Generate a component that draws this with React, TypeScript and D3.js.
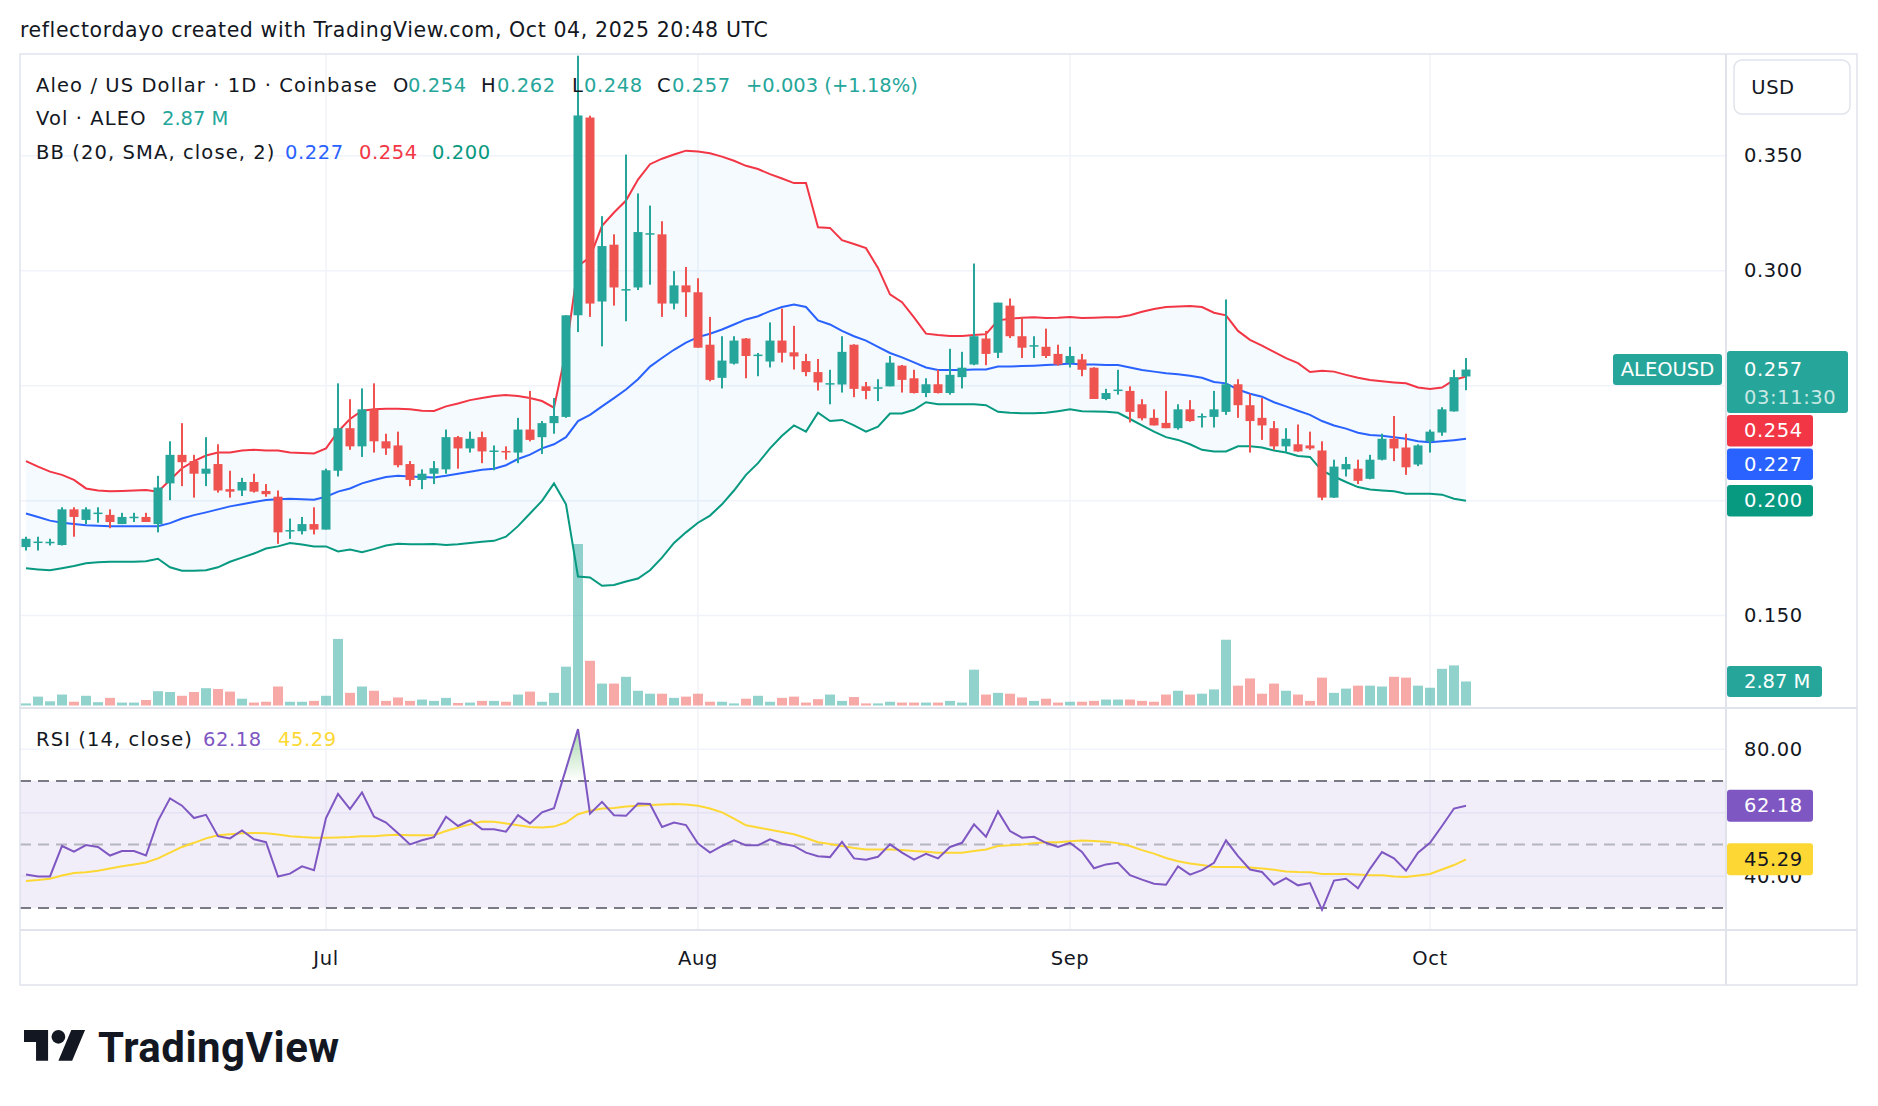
import React, { useEffect } from 'react';
import * as d3 from 'd3';

const opens = [0.1798,0.1819,0.1818,0.1807,0.1962,0.1916,0.1945,0.1938,0.1898,0.1928,
 0.1929,0.1898,0.2075,0.2199,0.2172,0.2117,0.2159,0.2050,0.2044,0.2081,
 0.2042,0.2017,0.1868,0.1867,0.1898,0.1874,0.2130,0.2315,0.2236,0.2397,
 0.2258,0.2240,0.2159,0.2090,0.2117,0.2136,0.2276,0.2227,0.2276,0.2216,
 0.2216,0.2209,0.2309,0.2276,0.2337,0.2364,0.2806,0.3666,0.2866,0.3113,
 0.2915,0.2927,0.3160,0.3158,0.2857,0.2936,0.2906,0.2678,0.2534,0.2596,
 0.2705,0.2632,0.2605,0.2696,0.2645,0.2607,0.2559,0.2508,0.2505,0.2678,
 0.2497,0.2490,0.2497,0.2587,0.2532,0.2468,0.2506,0.2468,0.2537,0.2592,
 0.2705,0.2643,0.2848,0.2715,0.2673,0.2669,0.2638,0.2598,0.2614,0.2578,
 0.2442,0.2480,0.2477,0.2419,0.2360,0.2338,0.2315,0.2397,0.2365,0.2364,
 0.2386,0.2506,0.2415,0.2360,0.2315,0.2236,0.2245,0.2240,0.2218,0.2013,
 0.2136,0.2139,0.2095,0.2178,0.2269,0.2231,0.2157,0.2258,0.2296,0.2388,
 0.2540];

const highs = [0.1843,0.1843,0.1834,0.1971,0.1971,0.1971,0.1971,0.1962,0.1947,0.1947,
 0.1947,0.2108,0.2258,0.2337,0.2199,0.2276,0.2245,0.2130,0.2099,0.2117,
 0.2072,0.2044,0.1922,0.1929,0.1971,0.2139,0.2510,0.2441,0.2488,0.2510,
 0.2291,0.2300,0.2172,0.2136,0.2172,0.2309,0.2281,0.2300,0.2300,0.2240,
 0.2236,0.2360,0.2477,0.2346,0.2446,0.2806,0.3935,0.3674,0.3237,0.3158,
 0.3505,0.3336,0.3283,0.3215,0.2998,0.3016,0.2967,0.2799,0.2715,0.2715,
 0.2707,0.2642,0.2775,0.2835,0.2760,0.2638,0.2616,0.2569,0.2715,0.2680,
 0.2516,0.2528,0.2629,0.2590,0.2569,0.2532,0.2569,0.2660,0.2647,0.3031,
 0.2738,0.2861,0.2879,0.2799,0.2715,0.2748,0.2678,0.2669,0.2638,0.2580,
 0.2486,0.2569,0.2497,0.2441,0.2397,0.2477,0.2419,0.2437,0.2379,0.2477,
 0.2875,0.2528,0.2464,0.2446,0.2346,0.2315,0.2331,0.2300,0.2258,0.2178,
 0.2190,0.2178,0.2199,0.2291,0.2368,0.2291,0.2245,0.2309,0.2406,0.2569,
 0.2620];

const lows = [0.1783,0.1783,0.1805,0.1805,0.1843,0.1898,0.1904,0.1880,0.1898,0.1907,
 0.1907,0.1862,0.2002,0.2063,0.2013,0.2063,0.2035,0.2013,0.2020,0.2035,
 0.2017,0.1812,0.1834,0.1853,0.1853,0.1874,0.2105,0.2221,0.2190,0.2209,
 0.2199,0.2145,0.2063,0.2050,0.2072,0.2117,0.2139,0.2209,0.2163,0.2132,
 0.2178,0.2163,0.2258,0.2203,0.2291,0.2360,0.2733,0.2799,0.2671,0.2848,
 0.2780,0.2916,0.2939,0.2799,0.2832,0.2799,0.2665,0.2519,0.2488,0.2592,
 0.2532,0.2541,0.2579,0.2601,0.2570,0.2541,0.2479,0.2419,0.2470,0.2450,
 0.2441,0.2433,0.2497,0.2470,0.2466,0.2450,0.2466,0.2461,0.2488,0.2589,
 0.2589,0.2620,0.2707,0.2620,0.2620,0.2620,0.2587,0.2579,0.2541,0.2442,
 0.2437,0.2461,0.2340,0.2349,0.2327,0.2315,0.2309,0.2343,0.2318,0.2318,
 0.2373,0.2360,0.2209,0.2264,0.2221,0.2209,0.2212,0.2221,0.2002,0.2012,
 0.2105,0.2072,0.2093,0.2175,0.2172,0.2112,0.2150,0.2209,0.2282,0.2387,
 0.2480];

const closes = [0.1834,0.1822,0.1821,0.1962,0.1929,0.1962,0.1948,0.1907,0.1929,0.1930,
 0.1907,0.2057,0.2199,0.2167,0.2117,0.2139,0.2044,0.2039,0.2081,0.2039,
 0.2028,0.1862,0.1872,0.1898,0.1874,0.2132,0.2315,0.2236,0.2397,0.2258,
 0.2227,0.2154,0.2090,0.2117,0.2141,0.2276,0.2227,0.2269,0.2214,0.2218,
 0.2212,0.2309,0.2264,0.2337,0.2368,0.2806,0.3675,0.2857,0.3107,0.2927,
 0.2920,0.3168,0.3163,0.2857,0.2936,0.2906,0.2665,0.2525,0.2609,0.2696,
 0.2629,0.2635,0.2696,0.2643,0.2627,0.2559,0.2514,0.2511,0.2647,0.2486,
 0.2477,0.2493,0.2600,0.2525,0.2468,0.2506,0.2468,0.2547,0.2578,0.2715,
 0.2638,0.2861,0.2715,0.2665,0.2676,0.2629,0.2592,0.2629,0.2569,0.2442,
 0.2468,0.2483,0.2386,0.2358,0.2327,0.2315,0.2397,0.2346,0.2368,0.2397,
 0.2506,0.2415,0.2346,0.2327,0.2236,0.2269,0.2214,0.2227,0.2013,0.2148,
 0.2159,0.2086,0.2178,0.2269,0.2227,0.2145,0.2240,0.2300,0.2397,0.2537,
 0.2570];

// volume in millions ALEO
const volumes = [0.25,1.06,0.50,1.31,0.45,1.16,0.40,0.91,0.35,0.35,
 0.66,1.71,1.61,1.16,1.61,2.07,1.97,1.66,0.81,0.35,
 0.45,2.27,0.45,0.45,0.55,1.16,7.96,1.51,2.27,1.76,
 0.55,0.96,0.55,0.71,0.55,0.91,0.30,0.35,0.55,0.55,
 0.45,1.31,1.66,0.45,1.51,4.64,19.30,5.34,2.62,2.62,
 3.43,1.76,1.41,1.41,0.91,1.06,1.41,0.45,0.45,0.25,
 0.81,1.16,0.45,0.91,1.06,0.35,0.76,1.31,0.55,1.01,
 0.25,0.25,0.45,0.35,0.35,0.35,0.35,0.55,0.35,4.28,
 1.31,1.51,1.41,0.96,0.55,0.81,0.35,0.45,0.45,0.55,
 0.71,0.71,0.71,0.55,0.45,1.31,1.76,1.31,1.41,1.92,
 7.86,2.37,3.23,1.41,2.62,1.76,1.31,0.55,3.33,1.51,
 2.02,2.37,2.37,2.27,3.43,3.33,2.37,2.12,4.38,4.79,
 2.87];

const bbUpper = [0.2172,0.2148,0.2126,0.2112,0.2090,0.2053,0.2044,0.2041,0.2042,0.2044,
 0.2046,0.2039,0.2090,0.2141,0.2172,0.2196,0.2209,0.2209,0.2218,0.2221,
 0.2218,0.2218,0.2209,0.2207,0.2205,0.2227,0.2300,0.2355,0.2391,0.2397,
 0.2400,0.2400,0.2397,0.2391,0.2390,0.2410,0.2422,0.2437,0.2446,0.2455,
 0.2459,0.2455,0.2446,0.2433,0.2404,0.2650,0.3021,0.3058,0.3195,0.3253,
 0.3305,0.3396,0.3463,0.3487,0.3505,0.3522,0.3518,0.3511,0.3496,0.3478,
 0.3456,0.3442,0.3420,0.3401,0.3381,0.3381,0.3189,0.3186,0.3133,0.3116,
 0.3098,0.3012,0.2897,0.2863,0.2797,0.2726,0.2720,0.2716,0.2716,0.2720,
 0.2724,0.2784,0.2791,0.2795,0.2797,0.2794,0.2795,0.2799,0.2794,0.2795,
 0.2797,0.2797,0.2806,0.2821,0.2833,0.2842,0.2844,0.2846,0.2842,0.2817,
 0.2806,0.2738,0.2699,0.2674,0.2647,0.2620,0.2598,0.2559,0.2565,0.2561,
 0.2547,0.2534,0.2525,0.2519,0.2514,0.2510,0.2492,0.2486,0.2492,0.2525,
 0.2540];

const bbBasis = [0.1944,0.1929,0.1913,0.1904,0.1898,0.1893,0.1891,0.1889,0.1889,0.1889,
 0.1889,0.1889,0.1902,0.1922,0.1937,0.1949,0.1962,0.1975,0.1984,0.1994,
 0.2003,0.2006,0.2008,0.2006,0.2004,0.2017,0.2039,0.2053,0.2075,0.2090,
 0.2103,0.2108,0.2105,0.2103,0.2101,0.2108,0.2117,0.2126,0.2134,0.2139,
 0.2154,0.2181,0.2200,0.2227,0.2245,0.2276,0.2346,0.2373,0.2410,0.2446,
 0.2483,0.2528,0.2583,0.2620,0.2656,0.2687,0.2711,0.2726,0.2744,0.2766,
 0.2788,0.2802,0.2824,0.2842,0.2853,0.2842,0.2784,0.2766,0.2738,0.2715,
 0.2696,0.2669,0.2642,0.2623,0.2601,0.2579,0.2568,0.2568,0.2568,0.2570,
 0.2570,0.2583,0.2583,0.2585,0.2587,0.2590,0.2592,0.2596,0.2592,0.2592,
 0.2590,0.2590,0.2579,0.2568,0.2561,0.2554,0.2550,0.2543,0.2534,0.2516,
 0.2510,0.2483,0.2465,0.2452,0.2428,0.2410,0.2391,0.2373,0.2346,0.2327,
 0.2313,0.2295,0.2285,0.2282,0.2276,0.2269,0.2258,0.2254,0.2258,0.2263,
 0.2269];

const bbLower = [0.1706,0.1701,0.1697,0.1706,0.1716,0.1728,0.1732,0.1734,0.1734,0.1734,
 0.1736,0.1747,0.1710,0.1695,0.1695,0.1697,0.1710,0.1734,0.1752,0.1770,
 0.1792,0.1801,0.1816,0.1809,0.1801,0.1801,0.1779,0.1787,0.1776,0.1789,
 0.1805,0.1812,0.1810,0.1810,0.1811,0.1807,0.1810,0.1816,0.1821,0.1825,
 0.1843,0.1889,0.1944,0.1999,0.2075,0.1984,0.1670,0.1666,0.1630,0.1633,
 0.1648,0.1661,0.1697,0.1752,0.1816,0.1862,0.1904,0.1935,0.1984,0.2044,
 0.2112,0.2163,0.2227,0.2282,0.2327,0.2300,0.2382,0.2346,0.2351,0.2327,
 0.2300,0.2322,0.2379,0.2379,0.2395,0.2428,0.2419,0.2419,0.2419,0.2419,
 0.2415,0.2386,0.2382,0.2380,0.2380,0.2382,0.2389,0.2397,0.2389,0.2388,
 0.2386,0.2382,0.2355,0.2327,0.2300,0.2276,0.2264,0.2245,0.2221,0.2214,
 0.2214,0.2236,0.2236,0.2231,0.2218,0.2209,0.2194,0.2190,0.2130,0.2105,
 0.2081,0.2059,0.2048,0.2044,0.2041,0.2030,0.2030,0.2030,0.2026,0.2008,
 0.1999];

const rsiValues = [40.5,39.9,39.9,49.5,47.7,49.8,49.2,46.5,47.9,47.9,
 46.5,57.4,64.5,62.2,58.3,59.3,52.6,51.9,54.4,51.6,
 50.7,39.9,40.8,43.1,41.9,58.3,65.9,61.1,66.4,58.7,
 56.9,53.5,50.0,51.3,52.3,58.7,55.8,57.6,54.8,54.8,
 54.0,59.2,56.6,60.1,61.4,73.8,86.3,59.7,63.4,59.2,
 59.0,62.9,62.7,55.5,56.9,56.1,50.3,47.4,49.5,51.3,
 49.7,49.7,51.6,50.2,49.5,47.4,46.3,46.0,50.8,45.6,
 45.2,46.1,50.0,47.4,45.2,47.0,45.6,49.2,50.5,56.3,
 52.4,60.4,54.2,52.1,52.4,50.5,49.2,50.5,47.6,42.5,
 43.7,44.2,40.3,38.9,37.6,37.3,43.1,40.5,41.9,44.2,
 51.3,46.3,42.1,41.3,37.3,39.4,37.1,37.8,29.4,38.6,
 39.2,36.2,42.3,47.6,45.6,41.7,47.4,50.5,55.8,61.3,
 62.18];

const rsiMA = [38.5,38.8,39.2,40.2,41.0,41.2,41.7,42.4,43.1,43.7,
 44.3,45.6,47.4,49.2,50.5,51.9,52.9,53.2,53.5,53.6,
 53.5,53.1,52.6,52.3,52.1,52.1,52.2,52.3,52.6,52.6,
 52.9,53.0,52.9,52.9,52.9,54.2,55.3,56.3,57.2,57.1,
 56.6,56.0,55.5,55.3,55.6,56.9,59.5,60.6,61.3,61.5,
 61.9,62.2,62.4,62.6,62.7,62.6,62.2,61.3,60.1,58.1,
 56.0,55.3,54.6,53.9,53.2,52.0,50.7,50.1,49.5,48.9,
 48.4,48.4,48.4,48.2,47.9,47.7,47.4,47.4,47.4,47.9,
 48.4,49.5,49.7,50.0,50.4,50.7,50.7,51.0,51.2,51.1,
 50.8,50.4,49.5,48.2,47.1,45.7,44.7,44.0,43.5,42.9,
 42.9,42.9,42.7,42.4,42.0,41.5,41.3,41.2,40.7,40.7,
 40.7,40.5,40.3,40.3,39.9,39.7,40.2,40.7,42.1,43.5,
 45.29];

const priceTicks = [0.15, 0.2, 0.25, 0.3, 0.35];
const rsiTicks = [80, 60, 40];
const rsiLevels = [70, 50, 30];

const FONT = "'DejaVu Sans', Verdana, sans-serif";
const TEXT = '#131722';
const UP = '#26a69a';
const DOWN = '#ef5350';

export default function App() {
  useEffect(() => {
    document.body.style.margin = '0';
  }, []);

  const W = 1878, H = 1106;
  const L = 20, R = 1726, PT = 54, PB = 708, RB = 930, TB = 985, AR = 1857;

  const n = closes.length;
  const dates = closes.map((_, i) => new Date(Date.UTC(2025, 5, 6 + i)));
  const x = d3.scaleUtc().domain([dates[0], dates[n - 1]]).range([26, 1466]);
  const y = d3.scaleLinear().domain([0.15, 0.35]).range([615.6, 155.7]);
  const yv = d3.scaleLinear().domain([0, d3.max(volumes) as number]).range([705.5, 544]);
  const yr = d3.scaleLinear().domain([30, 70]).range([907.9, 780.9]);
  const xi = (i: number) => x(dates[i]);

  const months = x.ticks(d3.utcMonth.every(1) as any);
  const fmtMonth = d3.utcFormat('%b');
  const f3 = d3.format('.3f');
  const f2 = d3.format('.2f');

  const bandArea = d3.area<number>()
    .x((_, i) => xi(i))
    .y0((_, i) => y(bbLower[i]))
    .y1((d) => y(d))(bbUpper) as string;
  const mkLine = (arr: number[], sc: (v: number) => number) =>
    d3.line<number>().x((_, i) => xi(i)).y((d) => sc(d))(arr) as string;

  const rsiOverArea = d3.area<number>().x((_, i) => xi(i)).y0(yr(70)).y1((d) => yr(d))(rsiValues) as string;
  const rsiUnderArea = d3.area<number>().x((_, i) => xi(i)).y0(yr(30)).y1((d) => yr(d))(rsiValues) as string;

  const last = n - 1;
  const lastUp = closes[last] >= opens[last];
  const chg = closes[last] - opens[last];

  const LH = 31.5;
  const priceBoxTop = y(closes[last]) - 18.6;
  const priceBoxH = 62;
  const bbMarks = [
    { v: bbUpper[last], c: '#f23645' },
    { v: bbBasis[last], c: '#2962ff' },
    { v: bbLower[last], c: '#089981' },
  ];
  let prevBottom = priceBoxTop + priceBoxH;
  const bbBoxes = bbMarks.map((m) => {
    let top = y(m.v) - LH / 2;
    if (top < prevBottom + 2) top = prevBottom + 2;
    prevBottom = top + LH;
    return { ...m, top };
  });
  const boxes = [{ top: priceBoxTop, h: priceBoxH }, ...bbBoxes.map((b) => ({ top: b.top, h: LH }))];
  const hiddenPrice = (v: number) => boxes.some((b) => y(v) > b.top && y(v) < b.top + b.h);

  const rsiBoxes = [
    { v: rsiValues[last], c: '#7e57c2', t: '#ffffff' },
    { v: rsiMA[last], c: '#fdd835', t: TEXT },
  ].map((m) => ({ ...m, top: yr(m.v) - 16 }));
  const hiddenRsi = (v: number) => rsiBoxes.some((b) => yr(v) > b.top && yr(v) < b.top + 32);

  const volTop = yv(volumes[last]);

  const labelX = 1744;
  const fs = 19.5;
  const lsLabel = 1.1;
  const lsNum = 0.6;

  return (
    <svg width={W} height={H} style={{ position: 'absolute', left: 0, top: 0, background: '#fff' }}
      fontFamily={FONT}>
      <defs>
        <clipPath id="pclip"><rect x={L} y={PT} width={R - L} height={PB - PT - 1} /></clipPath>
        <clipPath id="rclip"><rect x={L} y={PB + 1} width={R - L} height={RB - PB - 1} /></clipPath>
        <clipPath id="overclip"><rect x={L} y={PB + 1} width={R - L} height={yr(70) - PB - 1} /></clipPath>
        <clipPath id="underclip"><rect x={L} y={yr(30)} width={R - L} height={RB - yr(30)} /></clipPath>
        <linearGradient id="overg" gradientUnits="userSpaceOnUse" x1="0" x2="0" y1={yr(88)} y2={yr(70)}>
          <stop offset="0" stopColor="rgb(76,175,80)" stopOpacity="0.55" />
          <stop offset="1" stopColor="rgb(76,175,80)" stopOpacity="0" />
        </linearGradient>
        <linearGradient id="underg" gradientUnits="userSpaceOnUse" x1="0" x2="0" y1={yr(30)} y2={yr(24)}>
          <stop offset="0" stopColor="rgb(255,82,82)" stopOpacity="0" />
          <stop offset="1" stopColor="rgb(255,82,82)" stopOpacity="0.55" />
        </linearGradient>
      </defs>
      <rect x={0} y={0} width={W} height={H} fill="#ffffff" />

      {/* header */}
      <text x={20} y={30} dominantBaseline="central" fontSize={20.5} letterSpacing={0.6} fill={TEXT}>
        reflectordayo created with TradingView.com, Oct 04, 2025 20:48 UTC
      </text>

      {/* grid */}
      <g stroke="#f0f3fa" strokeWidth={1.5}>
        {priceTicks.map((t) => (
          <line key={'pg' + t} x1={L} x2={R} y1={y(t)} y2={y(t)} />
        ))}
        {months.map((m) => (
          <line key={'vg' + m.getTime()} x1={x(m)} x2={x(m)} y1={PT} y2={RB} />
        ))}
        {rsiTicks.map((t) => (
          <line key={'rg' + t} x1={L} x2={R} y1={yr(t)} y2={yr(t)} />
        ))}
      </g>

      {/* price pane */}
      <g clipPath="url(#pclip)">
        <path d={bandArea} fill="rgba(33,150,243,0.05)" />
        {volumes.map((v, i) => {
          const up = closes[i] >= opens[i];
          return (
            <rect key={'v' + i} x={xi(i) - 5} width={10} y={yv(v)} height={yv(0) - yv(v)}
              fill={up ? 'rgba(38,166,154,0.5)' : 'rgba(239,83,80,0.5)'} />
          );
        })}
        <path d={mkLine(bbUpper, y)} fill="none" stroke="#f23645" strokeWidth={2} />
        <path d={mkLine(bbBasis, y)} fill="none" stroke="#2962ff" strokeWidth={2} />
        <path d={mkLine(bbLower, y)} fill="none" stroke="#089981" strokeWidth={2} />
        {closes.map((c, i) => {
          const o = opens[i];
          const up = c >= o;
          const col = up ? UP : DOWN;
          const top = y(Math.max(o, c));
          const bh = Math.max(1.5, y(Math.min(o, c)) - top);
          return (
            <g key={'c' + i} fill={col}>
              <rect x={xi(i) - 1} width={2} y={y(highs[i])} height={y(lows[i]) - y(highs[i])} />
              <rect x={xi(i) - 4.5} width={9} y={top} height={bh} />
            </g>
          );
        })}
      </g>

      {/* legends */}
      <g fontSize={fs} dominantBaseline="central">
        <g letterSpacing={lsLabel} fill={TEXT}>
          <text x={36} y={85}>Aleo / US Dollar · 1D · Coinbase</text>
          <text x={36} y={118.6}>Vol · ALEO</text>
          <text x={36} y={152}>BB (20, SMA, close, 2)</text>
          <text x={36} y={739}>RSI (14, close)</text>
        </g>
        <text x={393} y={85} fill={TEXT}>O</text>
        <text x={408} y={85} fill={UP} letterSpacing={lsNum}>{f3(opens[last])}</text>
        <text x={481} y={85} fill={TEXT}>H</text>
        <text x={497} y={85} fill={UP} letterSpacing={lsNum}>{f3(highs[last])}</text>
        <text x={572} y={85} fill={TEXT}>L</text>
        <text x={584} y={85} fill={UP} letterSpacing={lsNum}>{f3(lows[last])}</text>
        <text x={657} y={85} fill={TEXT}>C</text>
        <text x={672} y={85} fill={UP} letterSpacing={lsNum}>{f3(closes[last])}</text>
        <text x={746} y={85} fill={UP}>{(chg >= 0 ? '+' : '') + f3(chg) + ' (+' + f2((chg / opens[last]) * 100) + '%)'}</text>
        <text x={162} y={118.6} fill={UP}>{f2(volumes[last]) + ' M'}</text>
        <g letterSpacing={lsNum}>
          <text x={285} y={152} fill="#2962ff">{f3(bbBasis[last])}</text>
          <text x={359} y={152} fill="#f23645">{f3(bbUpper[last])}</text>
          <text x={432} y={152} fill="#089981">{f3(bbLower[last])}</text>
          <text x={203} y={739} fill="#7e57c2">{f2(rsiValues[last])}</text>
          <text x={278} y={739} fill="#fdd835">{f2(rsiMA[last])}</text>
        </g>
      </g>

      {/* RSI pane */}
      <rect x={L} y={yr(70)} width={R - L} height={yr(30) - yr(70)} fill="rgba(126,87,194,0.1)" />
      <g clipPath="url(#rclip)">
        <g clipPath="url(#overclip)"><path d={rsiOverArea} fill="url(#overg)" /></g>
        <g clipPath="url(#underclip)"><path d={rsiUnderArea} fill="url(#underg)" /></g>
        {rsiLevels.map((lv) => (
          <line key={'lv' + lv} x1={L} x2={R} y1={yr(lv)} y2={yr(lv)}
            stroke={lv === 50 ? 'rgba(120,123,134,0.5)' : '#787b86'} strokeWidth={2} strokeDasharray="11 7" />
        ))}
        <path d={mkLine(rsiMA, yr)} fill="none" stroke="#fdd835" strokeWidth={2} />
        <path d={mkLine(rsiValues, yr)} fill="none" stroke="#7e57c2" strokeWidth={2} />
      </g>

      {/* frame */}
      <g stroke="#e0e3eb" fill="none">
        <rect x={L} y={PT} width={AR - L} height={TB - PT} strokeWidth={1.5} />
        <line x1={R} x2={R} y1={PT} y2={TB} strokeWidth={2} />
        <line x1={L} x2={AR} y1={PB} y2={PB} strokeWidth={2} />
        <line x1={L} x2={AR} y1={RB} y2={RB} strokeWidth={2} />
      </g>

      {/* time axis */}
      <g fontSize={fs} fill={TEXT} textAnchor="middle" dominantBaseline="central" letterSpacing={0.6}>
        {months.map((m) => (
          <text key={'ml' + m.getTime()} x={x(m)} y={958}>{fmtMonth(m)}</text>
        ))}
      </g>

      {/* price axis */}
      <rect x={1734} y={60} width={116} height={54} rx={8} fill="#fff" stroke="#e0e3eb" strokeWidth={1.5} />
      <text x={1773} y={87.4} fontSize={fs} fill={TEXT} textAnchor="middle" dominantBaseline="central"
        letterSpacing={0.6}>USD</text>
      <g fontSize={fs} fill={TEXT} dominantBaseline="central" letterSpacing={lsNum}>
        {priceTicks.filter((t) => !hiddenPrice(t)).map((t) => (
          <text key={'pl' + t} x={labelX} y={y(t)}>{f3(t)}</text>
        ))}
        {rsiTicks.filter((t) => !hiddenRsi(t)).map((t) => (
          <text key={'rl' + t} x={labelX} y={yr(t)}>{f2(t)}</text>
        ))}
      </g>

      {/* marker labels */}
      <g fontSize={fs} dominantBaseline="central" letterSpacing={lsNum}>
        <rect x={1613} y={y(closes[last]) - 15.5} width={109} height={31} rx={3} fill={lastUp ? UP : DOWN} />
        <text x={1667.5} y={y(closes[last])} fill="#fff" textAnchor="middle" letterSpacing={0}>ALEOUSD</text>
        <rect x={R + 1} y={priceBoxTop} width={121} height={priceBoxH} rx={3} fill={lastUp ? UP : DOWN} />
        <text x={labelX} y={y(closes[last])} fill="#fff">{f3(closes[last])}</text>
        <text x={labelX} y={priceBoxTop + 46.5} fill="rgba(255,255,255,0.75)">03:11:30</text>
        {bbBoxes.map((b) => (
          <g key={'bb' + b.c}>
            <rect x={R + 1} y={b.top} width={86} height={LH} rx={3} fill={b.c} />
            <text x={labelX} y={b.top + LH / 2} fill="#fff">{f3(b.v)}</text>
          </g>
        ))}
        <rect x={R + 1} y={volTop - 15.5} width={95} height={31} rx={3} fill={UP} />
        <text x={labelX} y={volTop} fill="#fff" letterSpacing={0}>{f2(volumes[last]) + ' M'}</text>
        {rsiBoxes.map((b) => (
          <g key={'rb' + b.c}>
            <rect x={R + 1} y={b.top} width={86} height={32} rx={3} fill={b.c} />
            <text x={labelX} y={b.top + 16} fill={b.t}>{f2(b.v)}</text>
          </g>
        ))}
      </g>

      {/* TradingView logo */}
      <g transform="translate(24,1023) scale(1.72)" fill={TEXT}>
        <path d="M14 22H7V11H0V4h14v18zM28 22h-8l7.5-18h8L28 22z" />
        <circle cx="20" cy="8" r="4" />
      </g>
      <text x={98} y={1062} fontSize={42} fontWeight={700} fill={TEXT} letterSpacing={0.5}
        fontFamily="Roboto, 'Noto Sans', sans-serif">TradingView</text>
    </svg>
  );
}
